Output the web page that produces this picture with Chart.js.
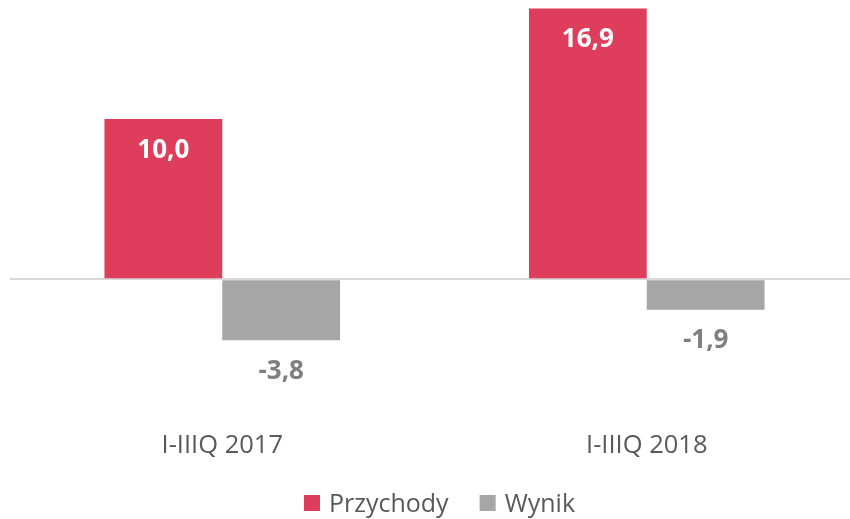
<!DOCTYPE html>
<html>
<head>
<meta charset="utf-8">
<script src="https://cdn.jsdelivr.net/npm/chart.js@4/dist/chart.umd.min.js"></script>
<style>
html,body{margin:0;padding:0;background:#fff;overflow:hidden;}
#wrap{width:859px;height:519px;}
</style>
</head>
<body>
<div id="wrap"><canvas id="c" width="859" height="519"></canvas></div>
<script>
const categories = ['I-IIIQ 2017', 'I-IIIQ 2018'];
const seriesNames = ['Przychody', 'Wynik'];
const przychody = [10.0, 16.9];
const wynik = [-3.8, -1.9];

const RED = '#DE3D5C';
const GRAY = '#A6A6A6';

const labelPlugin = {
  id: 'valueLabels',
  afterDatasetsDraw(chart) {
    const ctx = chart.ctx;
    ctx.save();
    ctx.font = 'bold 26px "Open Sans"';
    ctx.textAlign = 'center';
    ctx.textBaseline = 'middle';
    chart.data.datasets.forEach((ds, di) => {
      const meta = chart.getDatasetMeta(di);
      meta.data.forEach((bar, i) => {
        const v = ds.data[i];
        const txt = v.toFixed(1).replace('.', ',');
        ctx.fillStyle = v >= 0 ? '#FFFFFF' : '#7F7F7F';
        ctx.fillText(txt, bar.x, bar.y + 31);
      });
    });
    ctx.restore();
  }
};

const legendPlugin = {
  id: 'customLegend',
  afterDraw(chart) {
    const ctx = chart.ctx;
    ctx.save();
    ctx.font = '25px "Open Sans"';
    const box = 16, gapText = 9, gapItem = 31;
    const items = chart.data.datasets.map(ds => ({ label: ds.label, color: ds.backgroundColor, w: ctx.measureText(ds.label).width }));
    let total = 0;
    items.forEach((it, i) => { total += box + gapText + it.w + (i < items.length - 1 ? gapItem : 0); });
    let x = 439.5 - total / 2;
    const cy = 503;
    ctx.textBaseline = 'alphabetic';
    ctx.textAlign = 'left';
    items.forEach(it => {
      ctx.fillStyle = it.color;
      ctx.fillRect(x, cy - box / 2, box, box);
      x += box + gapText;
      ctx.fillStyle = '#595959';
      ctx.fillText(it.label, x, 512);
      x += it.w + gapItem;
    });
    ctx.restore();
  }
};

new Chart(document.getElementById('c'), {
  type: 'bar',
  data: {
    labels: categories,
    datasets: [
      { label: seriesNames[0], data: przychody, backgroundColor: RED, categoryPercentage: 0.555, barPercentage: 1 },
      { label: seriesNames[1], data: wynik, backgroundColor: GRAY, categoryPercentage: 0.555, barPercentage: 1 }
    ]
  },
  options: {
    responsive: false,
    animation: false,
    layout: { padding: { left: 10, right: 0, top: 0, bottom: 52 } },
    plugins: {
      legend: { display: false },
      tooltip: { enabled: false }
    },
    scales: {
      x: {
        grid: { display: false },
        border: { display: false },
        ticks: { font: { family: '"Open Sans"', size: 25.5 }, color: '#595959', padding: 6 }
      },
      y: {
        min: -8.5625,
        max: 17.4375,
        afterBuildTicks: (axis) => { axis.ticks = [{ value: 0 }]; },
        ticks: { display: false },
        border: { display: false },
        grid: {
          drawTicks: false,
          lineWidth: 2,
          color: '#D9D9D9'
        }
      }
    }
  },
  plugins: [labelPlugin, legendPlugin]
});
</script>
</body>
</html>
